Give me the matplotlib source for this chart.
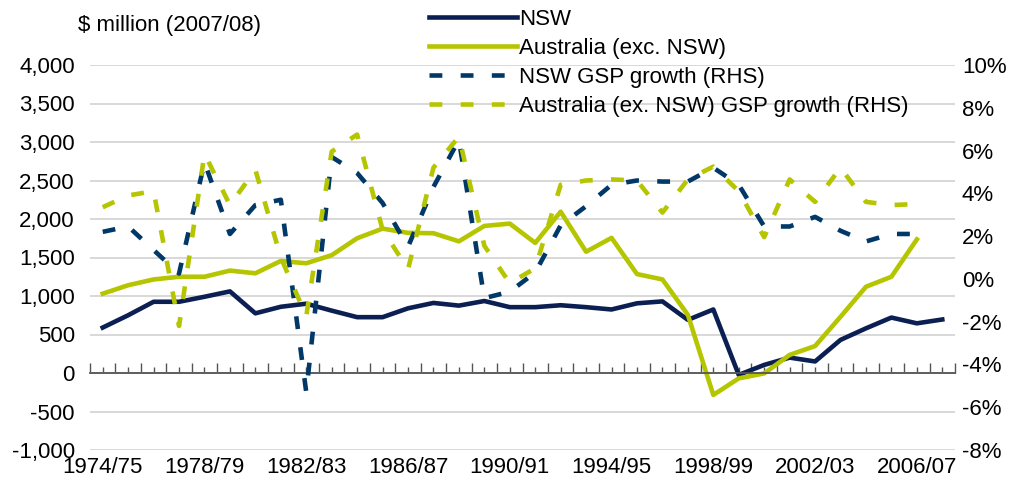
import matplotlib
matplotlib.use("Agg")
import matplotlib.pyplot as plt
import matplotlib.transforms as mtransforms
import numpy as np

plt.rcParams['font.family'] = ['Liberation Sans', 'DejaVu Sans']

# Data
years = ["1974/75", "1975/76", "1976/77", "1977/78", "1978/79", "1979/80", "1980/81",
         "1981/82", "1982/83", "1983/84", "1984/85", "1985/86", "1986/87", "1987/88",
         "1988/89", "1989/90", "1990/91", "1991/92", "1992/93", "1993/94", "1994/95",
         "1995/96", "1996/97", "1997/98", "1998/99", "1999/00", "2000/01", "2001/02",
         "2002/03", "2003/04", "2004/05", "2005/06", "2006/07", "2007/08"]
nsw = [590, 750, 925, 925, 990, 1060, 775, 860, 900, 810, 725, 725, 840, 910, 875, 935,
       855, 855, 880, 855, 825, 905, 930, 690, 825, -25, 105, 200, 150, 430, 580, 720,
       645, 695]
aus_ex_nsw = [1030, 1140, 1215, 1250, 1250, 1330, 1295, 1455, 1425, 1530, 1750, 1875, 1820,
              1815, 1710, 1910, 1940, 1690, 2095, 1575, 1755, 1285, 1215, 755, -285, -70,
              -5, 235, 350, 730, 1120, 1250, 1735]
nsw_growth = [2.2, 2.45, 1.35, 0.25, 5.45, 2.1, 3.45, 3.7, -5.3, 5.7, 4.95, 3.55, 1.5, 4.3,
              6.5, -0.9, -0.6, 0.3, 2.5, 3.4, 4.4, 4.6, 4.55, 4.55, 5.2, 4.4, 2.45, 2.45,
              2.9, 2.25, 1.75, 2.1, 2.1]
aus_growth = [3.35, 3.9, 4.1, -2.2, 5.85, 3.45, 5.1, 1.0, -1.75, 5.95, 6.75, 2.3, 0.45, 5.2,
              6.65, 1.55, -0.2, 0.5, 4.4, 4.6, 4.65, 4.6, 3.1, 4.65, 5.25, 4.1, 1.95, 4.65,
              3.6, 5.2, 3.6, 3.45, 3.5]
label_years = years[::4]

navy = "#0b1f52"
navy_dash = "#003868"
green = "#b5c500"
grid_col = "#d6d6d6"
axis_col = "#555555"
fs = 16

fig = plt.figure(figsize=(10.2, 4.97), dpi=100)
ax = fig.add_axes([90 / 1020, 1 - 450 / 497, 865 / 1020, 385 / 497])
ax2 = ax.twinx()

x = np.arange(len(years))
l1, = ax.plot(x[:len(nsw)], nsw, color=navy, lw=3.3, label="NSW")
l2, = ax.plot(x[:len(aus_ex_nsw)], aus_ex_nsw, color=green, lw=3.3, label="Australia (exc. NSW)")
l3, = ax2.plot(x[:len(nsw_growth)], nsw_growth, color=navy_dash, lw=3.3, dashes=(2.8, 4.0),
               dash_capstyle='butt', label="NSW GSP growth (RHS)")
l4, = ax2.plot(x[:len(aus_growth)], aus_growth, color=green, lw=3.3, dashes=(2.8, 4.0),
               dash_capstyle='butt', label="Australia (ex. NSW) GSP growth (RHS)")

# left axis
ax.set_xlim(-0.5, len(years) - 0.5)
ax.set_ylim(-1000, 4000)
ax.set_yticks(range(-1000, 4001, 500))
ax.set_yticklabels([f"{v:,}" for v in range(-1000, 4001, 500)])
ax.yaxis.grid(True, color=grid_col, lw=1.3)
ax.set_axisbelow(True)
ax.tick_params(axis='y', length=0, pad=11, labelsize=fs)

# right axis
ax2.set_ylim(-8, 10)
ax2.set_yticks(range(-8, 11, 2))
ax2.set_yticklabels([f"{v}%" for v in range(-8, 11, 2)])
ax2.tick_params(axis='y', length=0, pad=5, labelsize=fs)

for a in (ax, ax2):
    for s in ("top", "left", "right", "bottom"):
        a.spines[s].set_visible(False)

# category axis crossing at zero
ax.spines['bottom'].set_visible(True)
ax.spines['bottom'].set_position(('data', 0))
ax.spines['bottom'].set_color(axis_col)
ax.spines['bottom'].set_linewidth(1.3)
ax.set_xticks(np.arange(-0.5, len(years), 1))
ax.set_xticks(np.arange(0, len(years), 1), minor=True)
ax.tick_params(axis='x', which='major', direction='in', length=7, width=1, color=axis_col,
               labelbottom=False)
ax.tick_params(axis='x', which='minor', direction='in', length=4, width=1, color=axis_col,
               labelbottom=False)

trans = mtransforms.blended_transform_factory(ax.transData, ax.transAxes)
for i, lab in zip(range(0, len(years), 4), label_years):
    ax.text(i, -0.045, lab, transform=trans, ha='center', va='center', fontsize=fs)

fig.text(78 / 1020, 1 - 25 / 497, "$ million (2007/08)", ha='left', va='center', fontsize=fs)

fig.legend(handles=[l1, l2, l3, l4], loc='upper left', bbox_to_anchor=(429 / 1020, 1 - 9 / 497),
           frameon=False, fontsize=fs, handlelength=3.95, handletextpad=0.1,
           labelspacing=0.36, borderpad=0, borderaxespad=0)

fig.savefig("out.png", dpi=100)
